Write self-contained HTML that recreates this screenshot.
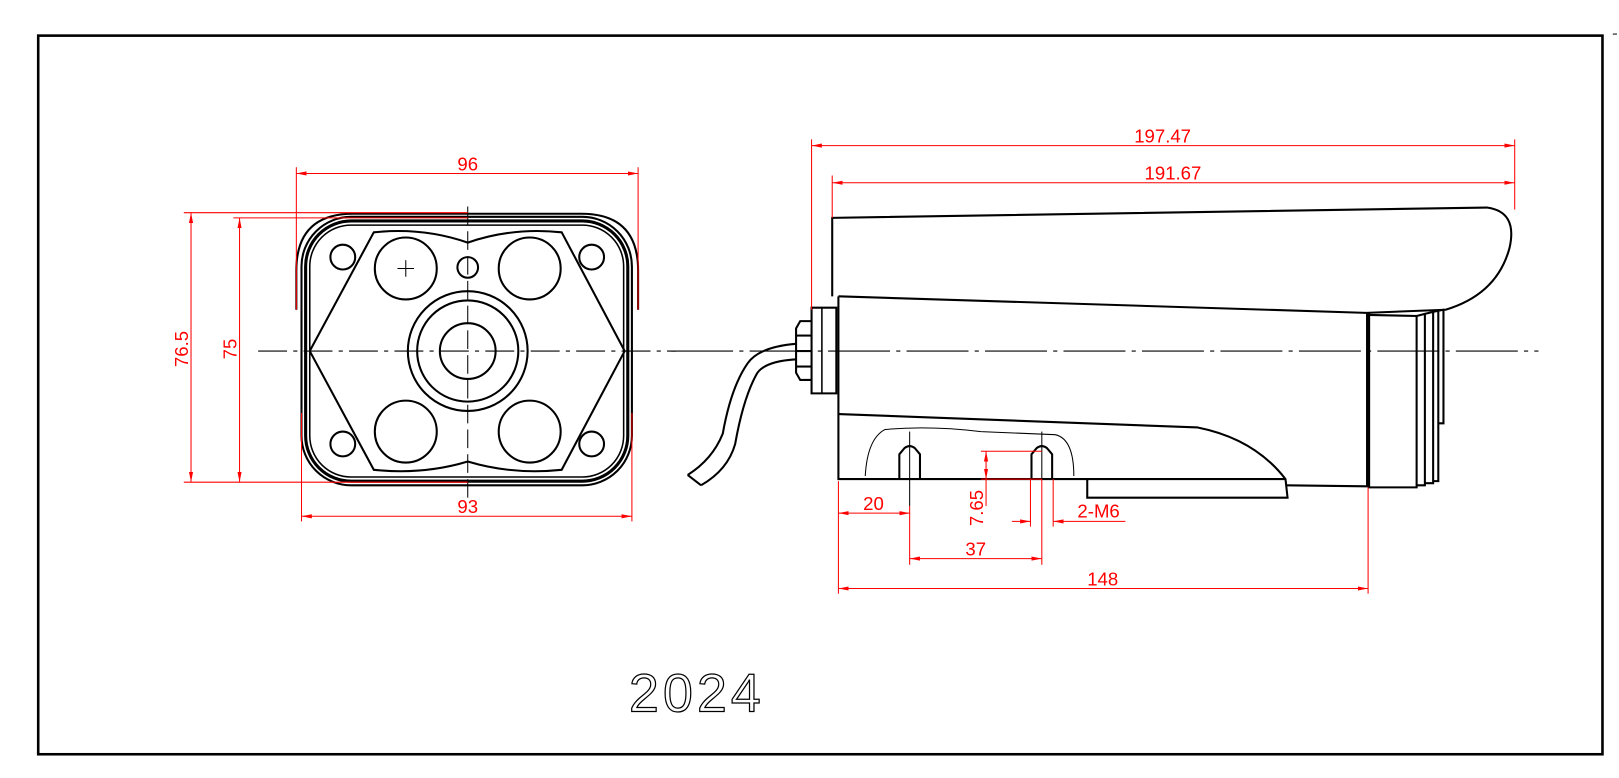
<!DOCTYPE html>
<html><head><meta charset="utf-8"><style>html,body{margin:0;padding:0;background:#fff}svg{display:block}</style></head>
<body>
<svg width="1619" height="778" viewBox="0 0 1568 753.5" xmlns="http://www.w3.org/2000/svg" font-family="Liberation Sans, sans-serif">
<defs>
<marker id="a" viewBox="0 0 10 6" refX="10" refY="3" markerWidth="10" markerHeight="6" orient="auto-start-reverse" markerUnits="userSpaceOnUse"><path d="M0,1 L10,3 L0,5z" fill="red"/></marker>
</defs>
<rect x="37" y="34.5" width="1515" height="696" fill="none" stroke="#000" stroke-width="2.5"/>
<line x1="1562" y1="33" x2="1566" y2="33" stroke="#000"/>

<!-- FRONT VIEW -->
<g fill="none" stroke="#000" stroke-width="2">
<path d="M287,300 L287,262 Q287,207 342,207 L563,207 Q618,207 618,262 L618,300"/>
<rect x="292" y="210" width="320" height="260" rx="48"/>
<rect x="296" y="214" width="312" height="252" rx="44" stroke-width="3"/>
<rect x="300" y="218" width="304" height="244" rx="40" stroke-width="1.5"/>
<path d="M362,225 Q410,220 453,235 Q496,220 544,225 L605,340 L544,455 Q496,460 453,447 Q410,460 362,455 L300,340 Z"/>
<circle cx="393" cy="260" r="30"/><circle cx="513" cy="260" r="30"/>
<circle cx="393" cy="418" r="30"/><circle cx="513" cy="418" r="30"/>
<circle cx="332" cy="249" r="12"/><circle cx="573" cy="249" r="12"/>
<circle cx="332" cy="430" r="12"/><circle cx="573" cy="430" r="12"/>
<circle cx="453" cy="259" r="10"/>
<circle cx="453" cy="340" r="58"/><circle cx="453" cy="340" r="49"/><circle cx="453" cy="340" r="27"/>
</g>
<g stroke="#000" stroke-width="1">
<line x1="385" y1="260" x2="401" y2="260"/><line x1="393" y1="252" x2="393" y2="268"/>
<line x1="250" y1="340" x2="655" y2="340" stroke-dasharray="28,6,4,6"/>
<line x1="453" y1="200" x2="453" y2="482" stroke-dasharray="18,6"/>
</g>
<g stroke="red" stroke-width="1" fill="none">
<line x1="287" y1="162" x2="287" y2="300"/><line x1="618" y1="162" x2="618" y2="300"/>
<line x1="287" y1="168" x2="618" y2="168" marker-start="url(#a)" marker-end="url(#a)"/>
<line x1="178" y1="206" x2="453" y2="206"/><line x1="226" y1="211" x2="453" y2="211"/>
<line x1="178" y1="467" x2="453" y2="467"/>
<line x1="185" y1="206" x2="185" y2="467" marker-start="url(#a)" marker-end="url(#a)"/>
<line x1="232" y1="211" x2="232" y2="467" marker-start="url(#a)" marker-end="url(#a)"/>
<line x1="292" y1="400" x2="292" y2="505"/><line x1="612" y1="400" x2="612" y2="505"/>
<line x1="292" y1="500" x2="612" y2="500" marker-start="url(#a)" marker-end="url(#a)"/>
</g>
<g fill="red" font-size="18">
<text x="453" y="165" text-anchor="middle">96</text>
<text x="453" y="497" text-anchor="middle">93</text>
<text transform="translate(182,338) rotate(-90)" text-anchor="middle">76.5</text>
<text transform="translate(229,338) rotate(-90)" text-anchor="middle">75</text>
</g>

<!-- SIDE VIEW -->
<g fill="none" stroke="#000" stroke-width="2">
<path d="M806,287 L806,211 L1440,201 Q1470,205 1462,240 Q1450,285 1400,300 L1323,303"/>
<path d="M812,287 L1323,303"/>
<path d="M812,287 L812,464 L1245,464"/>
<path d="M812,401 L1160,414 Q1215,425 1245,464 L1247,482 L1053,482 L1053,464"/>
<path d="M1245,470 L1323,471"/>
<line x1="1325" y1="303" x2="1325" y2="472" stroke-width="4"/>
<path d="M1325,305 L1372,306 L1372,472 L1325,472"/>
<path d="M1372,306 L1380,304 L1380,470 L1372,470 M1380,304 L1388,302 L1388,468 L1380,468 M1388,302 L1393,301 L1393,466 L1388,466 M1393,301 L1398,300 L1398,410 L1393,410"/>
<path d="M786,298 L810,298 L810,381 L786,381 Z"/>
<line x1="796" y1="298" x2="796" y2="381" stroke-width="1.5"/>
<path d="M786,311 L775,311 L771,318 L771,361 L775,368 L786,368"/>
<line x1="771" y1="325" x2="786" y2="325"/><line x1="771" y1="340" x2="786" y2="340"/><line x1="771" y1="355" x2="786" y2="355"/>
<path d="M771,333 Q735,336 724,352 Q708,375 700,420 Q690,445 666,460"/>
<path d="M771,348 Q740,350 733,362 Q720,385 712,430 Q705,455 679,470"/>
<line x1="666" y1="460" x2="679" y2="470"/>
<path d="M871,464 L871,440 L876,434 Q881,430 886,434 L891,440 L891,464"/>
<path d="M999,464 L999,440 L1004,434 Q1009,430 1014,434 L1019,440 L1019,464"/>
</g>
<g fill="none" stroke="#000" stroke-width="1">
<line x1="881" y1="418" x2="881" y2="490"/><line x1="1009" y1="418" x2="1009" y2="464"/>
<path d="M838,461 Q840,425 857,416 Q900,412 950,418 L1022,421 Q1040,425 1040,461"/>
<line x1="650" y1="340" x2="1490" y2="340" stroke-dasharray="60,6,4,6"/>
</g>
<g stroke="red" stroke-width="1" fill="none">
<line x1="786" y1="135" x2="786" y2="300"/><line x1="806" y1="170" x2="806" y2="211"/>
<line x1="1467" y1="135" x2="1467" y2="203"/>
<line x1="786" y1="141" x2="1467" y2="141" marker-start="url(#a)" marker-end="url(#a)"/>
<line x1="806" y1="177" x2="1467" y2="177" marker-start="url(#a)" marker-end="url(#a)"/>
<line x1="812" y1="466" x2="812" y2="575"/><line x1="1325" y1="472" x2="1325" y2="575"/>
<line x1="812" y1="497" x2="881" y2="497" marker-start="url(#a)" marker-end="url(#a)"/>
<line x1="881" y1="490" x2="881" y2="547"/><line x1="1009" y1="464" x2="1009" y2="547"/>
<line x1="881" y1="541" x2="1009" y2="541" marker-start="url(#a)" marker-end="url(#a)"/>
<line x1="812" y1="570" x2="1325" y2="570" marker-start="url(#a)" marker-end="url(#a)"/>
<line x1="950" y1="437" x2="1009" y2="437"/><line x1="950" y1="464" x2="1009" y2="464"/>
<line x1="955" y1="437" x2="955" y2="464" marker-start="url(#a)" marker-end="url(#a)"/>
<line x1="955" y1="464" x2="955" y2="490"/>
<line x1="998" y1="464" x2="998" y2="510"/><line x1="1020" y1="464" x2="1020" y2="510"/>
<line x1="980" y1="505" x2="998" y2="505" marker-end="url(#a)"/>
<line x1="1090" y1="505" x2="1020" y2="505" marker-end="url(#a)"/>
</g>
<g fill="red" font-size="18">
<text x="1126" y="138" text-anchor="middle">197.47</text>
<text x="1136" y="174" text-anchor="middle">191.67</text>
<text x="846" y="494" text-anchor="middle">20</text>
<text x="945" y="538" text-anchor="middle">37</text>
<text x="1068" y="567" text-anchor="middle">148</text>
<text x="1064" y="501" text-anchor="middle">2-M6</text>
<text transform="translate(952,492) rotate(-90)" text-anchor="middle">7.65</text>
</g>
<text x="675" y="689" text-anchor="middle" font-size="52" fill="none" stroke="#000" stroke-width="1.2" letter-spacing="4">2024</text>
</svg>
</body></html>
